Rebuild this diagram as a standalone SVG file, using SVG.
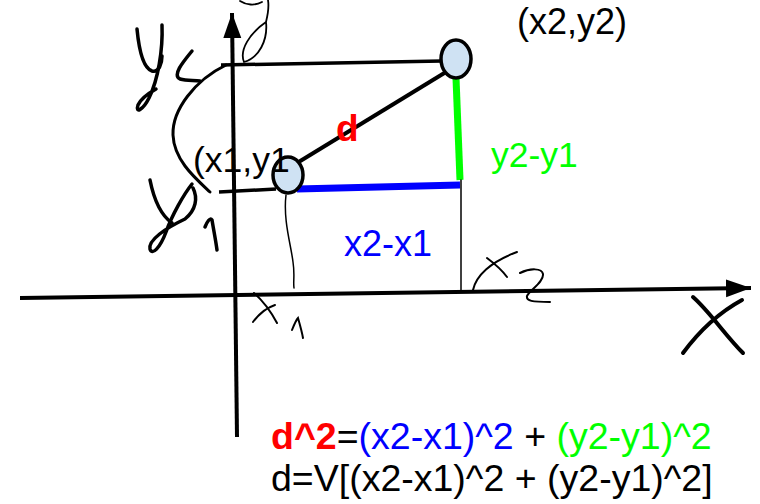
<svg xmlns="http://www.w3.org/2000/svg" width="760" height="504" viewBox="0 0 760 504">
<style>
.ax{stroke:#000;stroke-width:4;fill:none;stroke-linecap:butt}
.hw{stroke:#000;stroke-width:3.5;fill:none;stroke-linecap:round;stroke-linejoin:round}
.thin{stroke:#000;stroke-width:1.5;fill:none;stroke-linecap:round}
.pt{fill:#cfe2f3;stroke:#000;stroke-width:3.5}
.t{font-family:"Liberation Sans",Arial,sans-serif;font-size:36px;fill:#000}
.f{font-family:"Liberation Sans",Arial,sans-serif;font-size:37.5px;fill:#000}
</style>
<defs>
<marker id="arr" markerUnits="userSpaceOnUse" markerWidth="26" markerHeight="20" refX="25" refY="10" orient="auto">
<path d="M0,1 L25,10 L0,19 Z" fill="#000"/>
</marker>
</defs>
<g id="axes">
<path class="ax" d="M237,437 L232,13" marker-end="url(#arr)"/>
<path class="ax" d="M20,298 L751,288" marker-end="url(#arr)"/>
</g>
<g id="connectors">
<path class="ax" d="M221,65 L442,61" style="stroke-width:3.5"/>
<path class="ax" d="M219,192 L276,189" style="stroke-width:3.5"/>
<path class="ax" d="M297,163 L446,72"/>
<path d="M297,189 L460,185" stroke="#0000ff" stroke-width="7" fill="none"/>
<path d="M456,78 L460,180" stroke="#00ff00" stroke-width="7" fill="none"/>
<path class="thin" d="M461,180 L461,292"/>
<path class="thin" d="M286,195 C283,220 291,245 293,262 C295,275 293,282 294,288"/>
</g>
<g id="p1"><ellipse class="pt" cx="288" cy="175" rx="15" ry="18"/></g>
<g id="p2"><ellipse class="pt" cx="456" cy="59" rx="15" ry="19"/></g>
<g id="labels">
<text class="t" x="517" y="34">(x2,y2)</text>
<text class="t" x="193" y="172" style="font-size:35.5px">(x1,y1</text>
<text class="t" x="336" y="141" style="fill:#ff0000;font-weight:bold;font-size:37px">d</text>
<text class="t" x="491" y="167" style="fill:#00ff00;font-size:35.5px">y2-y1</text>
<text class="t" x="344" y="256" style="fill:#0000ff">x2-x1</text>
<text class="f" x="271" y="449"><tspan fill="#ff0000" font-weight="bold">d^2</tspan>=<tspan fill="#0000ff">(x2-x1)^2</tspan> + <tspan fill="#00ff00">(y2-y1)^2</tspan></text>
<text class="f" x="271" y="491">d=V[(x2-x1)^2 + (y2-y1)^2]</text>
</g>
<g id="handwriting">
<path class="hw" d="M137,29 C139,50 143,68 152,71 C159,73 162,63 162,56"/>
<path class="hw" d="M162,25 C163,50 158,80 149,98 C143,110 135,114 138,105 C141,98 149,93 156,89"/>
<path class="hw" d="M192,51 C183,62 172,75 180,79 C187,81 194,80 200,81"/>
<path class="hw" d="M226,65 C195,80 172,110 173,135 C174,160 195,178 210,192" style="stroke-width:3"/>
<path class="hw" d="M150,180 C154,200 162,216 172,223"/>
<path class="hw" d="M192,184 C184,194 172,215 166,232 C160,248 152,256 150,249 C148,240 166,228 185,219 C196,210 198,198 193,188"/>
<path class="hw" d="M205,227 C207,222 210,217 212,220 C214,232 216,242 217,250"/>
<path class="thin" d="M244,62 C239,50 250,33 266,22 C268,40 259,58 244,62 M266,22 C268,14 269,6 268,0 M240,1 C246,5 255,6 262,2" style="stroke-width:1.8"/>
<path class="thin" d="M254,293 C262,300 270,310 277,323 M275,305 C266,308 259,314 253,322 M292,330 C294,325 296,320 298,318 C300,325 302,332 303,338" style="stroke-width:2"/>
<path class="thin" d="M473,290 C476,276 490,262 517,252 M487,258 C495,264 502,270 507,277 M520,273 C530,268 542,268 543,274 C544,282 530,290 527,296 C526,301 532,302 550,302" style="stroke-width:2"/>
<path class="hw" d="M693,297 C710,312 725,335 743,353 M742,300 C720,312 700,330 683,353" style="stroke-width:4"/>
</g>
</svg>
